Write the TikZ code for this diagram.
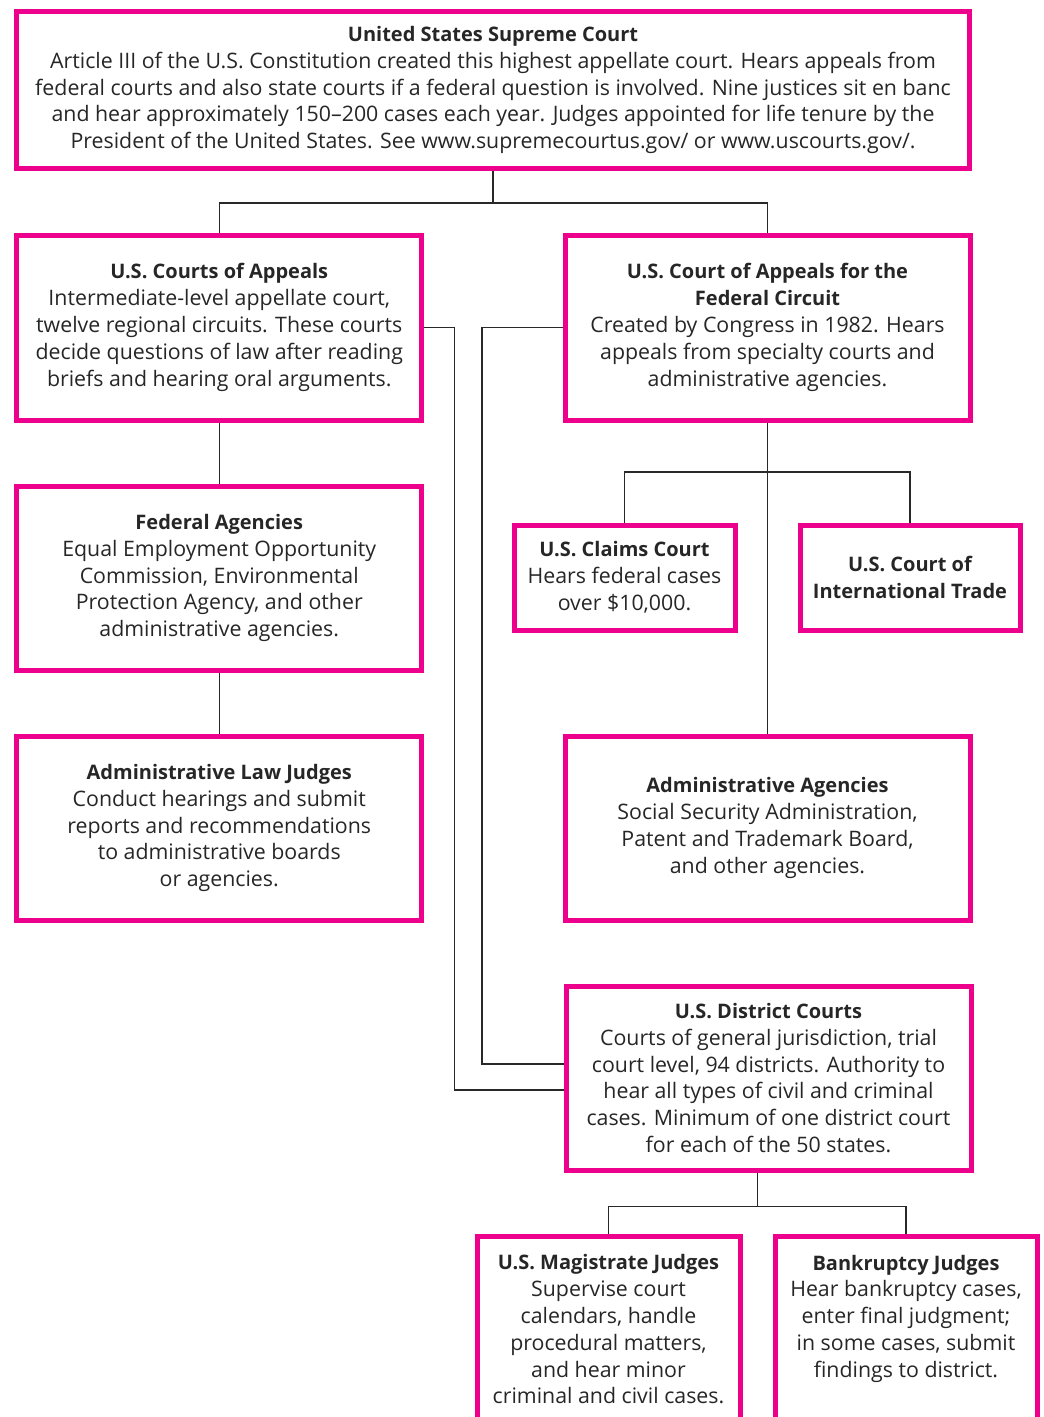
\documentclass[tikz,border=0pt]{standalone}
\usepackage{fontspec}
\setmainfont{Open Sans}
\usepackage{tikz}
\usetikzlibrary{positioning}
\definecolor{courtpink}{RGB}{236,0,140}
\definecolor{wireblack}{RGB}{40,40,40}
\newcommand{\ctitle}[1]{{\fontsize{15}{20.1}\selectfont\bfseries #1}}

\tikzset{
  courtbox/.style={draw=courtpink, line width=3.75pt, align=center, inner sep=0pt,
    font=\fontsize{16}{20.1}\selectfont, text=black!85},
  wire/.style={draw=wireblack, line width=0.9pt}
}

\begin{document}
\begin{tikzpicture}[x=0.75pt,y=0.75pt,yscale=-1,xscale=1]
\useasboundingbox (0,0) rectangle (1043,1417);
\clip (0,0) rectangle (1043,1417);

% Boxes
\node (sup) [courtbox, minimum width=953*0.75pt, minimum height=157*0.75pt] at (493,90)
  {\ctitle{United States Supreme Court}\\
   Article III of the U.S. Constitution created this highest appellate court. Hears appeals from\\
   federal courts and also state courts if a federal question is involved. Nine justices sit en banc\\
   and hear approximately 150--200 cases each year. Judges appointed for life tenure by the\\
   President of the United States. See www.supremecourtus.gov/ or www.uscourts.gov/.};
\node (coa) [courtbox, minimum width=405*0.75pt, minimum height=185*0.75pt] at (219.25,327.5)
  {\ctitle{U.S. Courts of Appeals}\\
   Intermediate-level appellate court,\\
   twelve regional circuits. These courts\\
   decide questions of law after reading\\
   briefs and hearing oral arguments.};
\node (fc) [courtbox, minimum width=405*0.75pt, minimum height=185*0.75pt] at (767.5,327.5)
  {\ctitle{U.S. Court of Appeals for the}\\
   \ctitle{Federal Circuit}\\
   Created by Congress in 1982. Hears\\
   appeals from specialty courts and\\
   administrative agencies.};
\node (fa) [courtbox, minimum width=405*0.75pt, minimum height=184*0.75pt] at (219.25,578)
  {\ctitle{Federal Agencies}\\
   Equal Employment Opportunity\\
   Commission, Environmental\\
   Protection Agency, and other\\
   administrative agencies.};
\node (cc) [courtbox, minimum width=221*0.75pt, minimum height=105*0.75pt] at (624.5,577.5)
  {\ctitle{U.S. Claims Court}\\
   Hears federal cases\\
   over \$10,000.};
\node (cit) [courtbox, minimum width=220*0.75pt, minimum height=105*0.75pt] at (910,577.5)
  {\ctitle{U.S. Court of}\\
   \ctitle{International Trade}};
\node (alj) [courtbox, minimum width=405*0.75pt, minimum height=184*0.75pt] at (219.25,828)
  {\ctitle{Administrative Law Judges}\\
   Conduct hearings and submit\\
   reports and recommendations\\
   to administrative boards\\
   or agencies.};
\node (aa) [courtbox, minimum width=405*0.75pt, minimum height=184*0.75pt] at (767.5,828)
  {\ctitle{Administrative Agencies}\\
   Social Security Administration,\\
   Patent and Trademark Board,\\
   and other agencies.};
\node (dc) [courtbox, minimum width=405*0.75pt, minimum height=184*0.75pt] at (768.5,1078)
  {\ctitle{U.S. District Courts}\\
   Courts of general jurisdiction, trial\\
   court level, 94 districts. Authority to\\
   hear all types of civil and criminal\\
   cases. Minimum of one district court\\
   for each of the 50 states.};
\node (mj) [courtbox, minimum width=263*0.75pt, minimum height=187*0.75pt] at (608.5,1329.5)
  {\ctitle{U.S. Magistrate Judges}\\
   Supervise court\\
   calendars, handle\\
   procedural matters,\\
   and hear minor\\
   criminal and civil cases.};
\node (bj) [courtbox, minimum width=262*0.75pt, minimum height=187*0.75pt] at (906,1329.5)
  {\ctitle{Bankruptcy Judges}\\
   Hear bankruptcy cases,\\
   enter final judgment;\\
   in some cases, submit\\
   findings to district.\\
   \mbox{}};

% Connectors
\draw [wire] (sup.south) -- ++(0,32) coordinate (j1);
\draw [wire] (coa.north) |- (j1) -| (fc.north);
\draw [wire] (coa.south) -- (fa.north);
\draw [wire] (fa.south) -- (alj.north);
\draw [wire] (fc.south) -- (aa.north);
\coordinate (j2) at (767.5,472);
\draw [wire] (cc.north) |- (j2) -| (cit.north);
\draw [wire] (coa.east) -- ++(30.5,0) |- ([yshift=9pt]dc.west);
\draw [wire] (fc.west) -- ++(-80.5,0) |- ([yshift=-10.5pt]dc.west);
\draw [wire] ([xshift=-8.25pt]dc.south) -- ++(0,34) coordinate (j3);
\draw [wire] (mj.north) |- (j3) -| (bj.north);

\end{tikzpicture}
\end{document}
